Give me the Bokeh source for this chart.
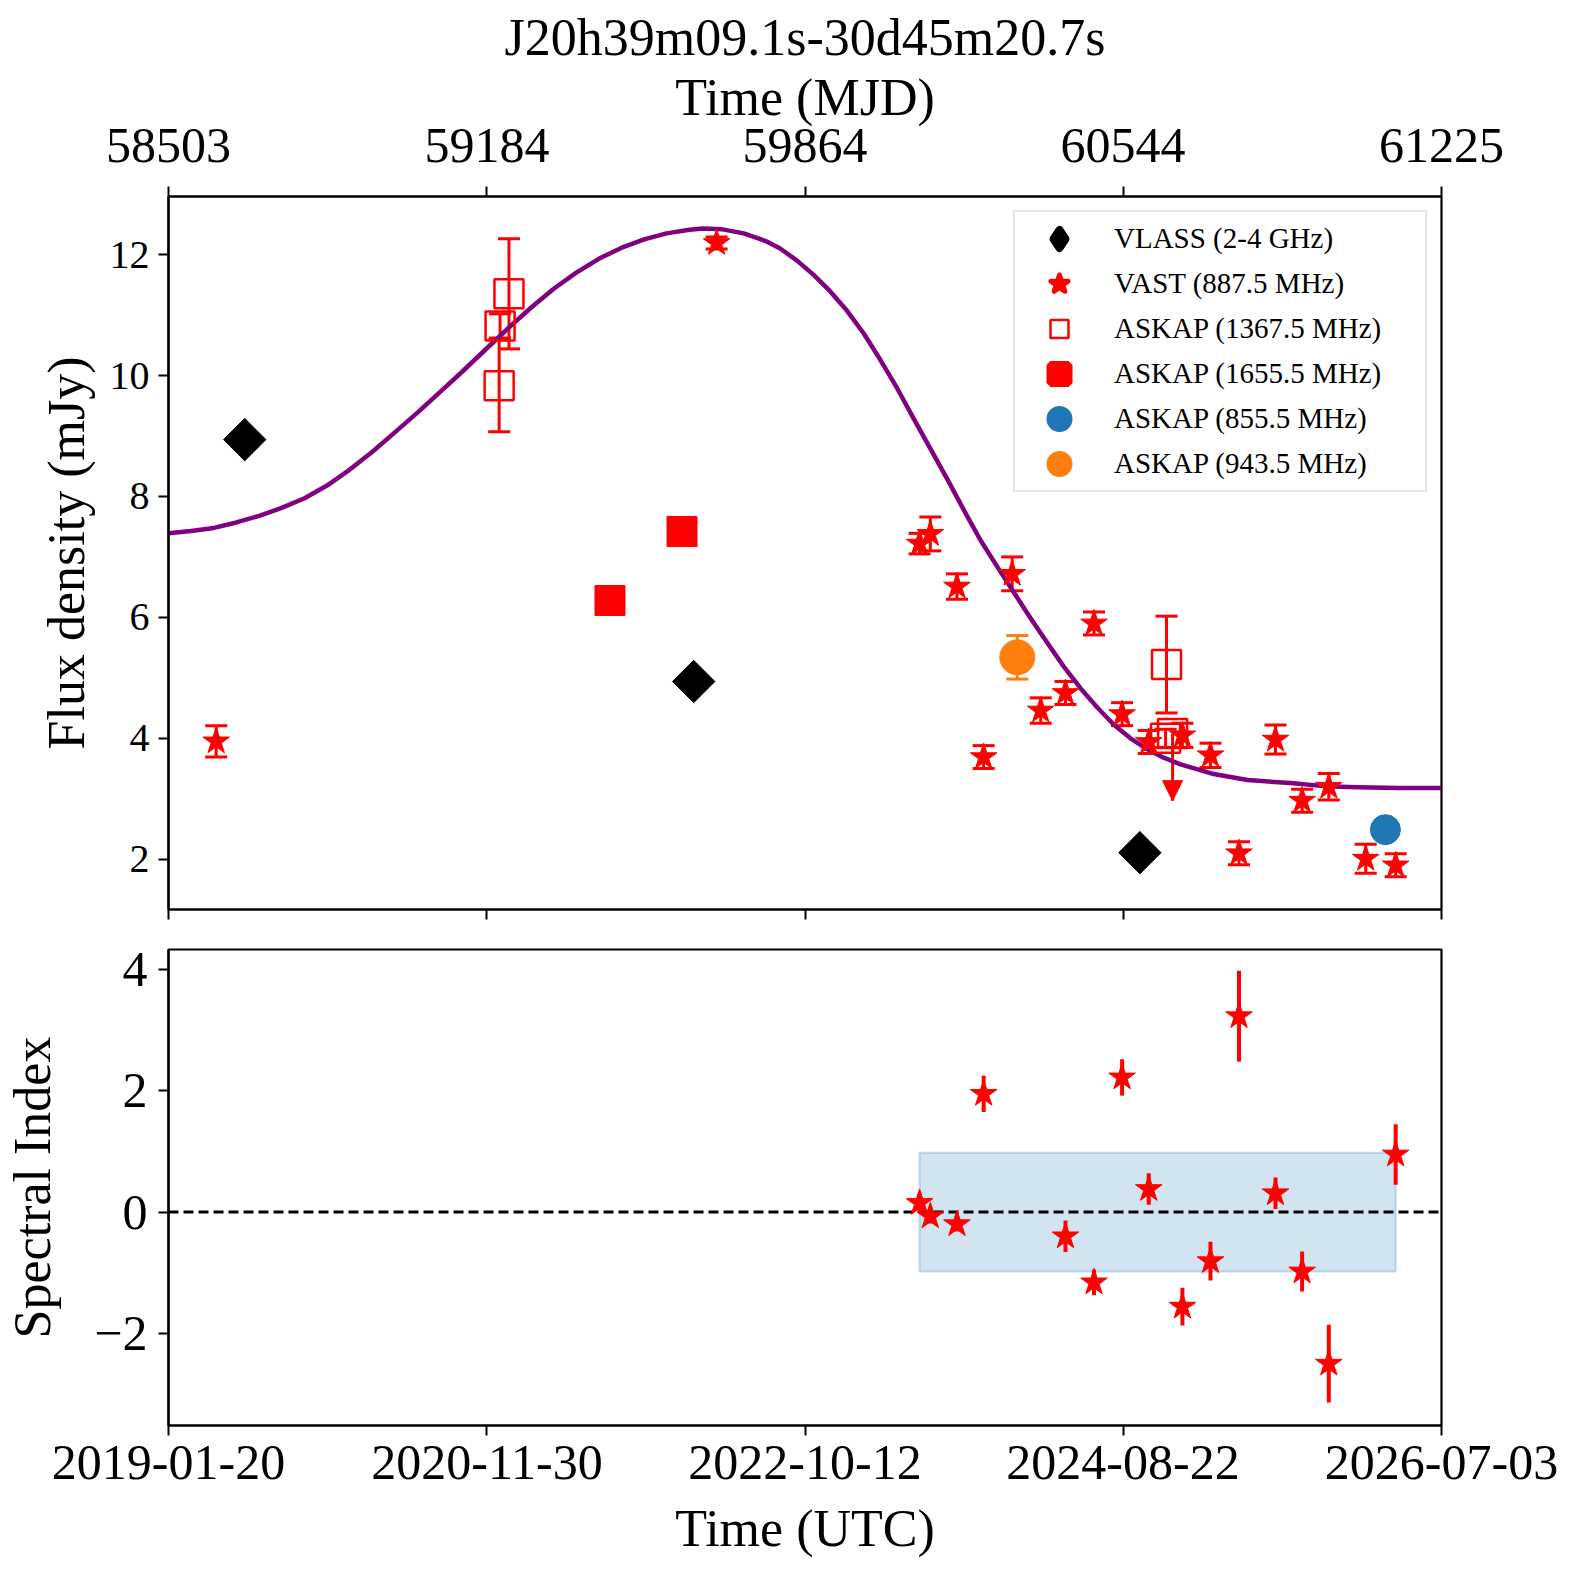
from bokeh.plotting import figure
from bokeh.models import (ColumnDataSource, Range1d, FixedTicker, LinearAxis, Whisker, TeeHead,
                          NormalHead, Legend, LegendItem, BoxAnnotation, Span)
from bokeh.core.properties import value
from bokeh.layouts import column
from bokeh.embed import file_html
from bokeh.resources import INLINE

FONT = "Liberation Serif"

TITLE = "J20h39m09.1s-30d45m20.7s"
MJD_TICKS = [58503, 59184, 59864, 60544, 61225]
DATE_LABELS = ["2019-01-20", "2020-11-30", "2022-10-12", "2024-08-22", "2026-07-03"]
FLUX_TICKS = [2, 4, 6, 8, 10, 12]
SPEC_TICKS = [-2, 0, 2, 4]
SPEC_LABELS = ["\u22122", "0", "2", "4"]

# VLASS (2-4 GHz)
vlass_mjd = [58666, 59626, 60580]
vlass_flux = [8.94, 4.94, 2.11]

# VAST (887.5 MHz)
vast_mjd = [58605, 59675, 60109, 60132, 60189, 60246, 60307, 60368, 60421, 60482,
            60542, 60599, 60671, 60731, 60792, 60870, 60927, 60984, 61063, 61127]
vast_flux = [3.95, 12.19, 7.22, 7.38, 6.51, 3.69, 6.72, 4.46, 4.75, 5.90,
             4.40, 3.94, 4.05, 3.72, 2.10, 3.98, 2.97, 3.20, 2.01, 1.90]
vast_err = [0.26, 0.10, 0.17, 0.28, 0.21, 0.19, 0.28, 0.21, 0.19, 0.19,
            0.19, 0.19, 0.20, 0.20, 0.19, 0.24, 0.19, 0.22, 0.24, 0.19]

# ASKAP (1367.5 MHz)
a1367_mjd = [59210, 59212, 59231, 60635, 60637]
a1367_flux = [9.83, 10.82, 11.35, 4.00, 5.22]
a1367_err = [0.76, 0.20, 0.91, 0.15, 0.80]
a1367_ul_mjd = [60650]
a1367_ul_flux = [4.08]
a1367_ul_tip = [2.97]

# ASKAP (1655.5 MHz)
a1655_mjd = [59447, 59601]
a1655_flux = [6.28, 7.42]

# ASKAP (855.5 MHz)
a855_mjd = [61105]
a855_flux = [2.49]
a855_err = [0.10]

# ASKAP (943.5 MHz)
a943_mjd = [60318]
a943_flux = [5.34]
a943_err = [0.36]

# model curve
model_mjd = [58503, 58551, 58600, 58648, 58697, 58745, 58794, 58842, 58890, 58939,
             58987, 59036, 59084, 59132, 59181, 59229, 59278, 59326, 59375, 59423,
             59471, 59520, 59568, 59617, 59646, 59685, 59733, 59781, 59811, 59847,
             59883, 59918, 59954, 59990, 60025, 60061, 60097, 60132, 60168, 60204,
             60239, 60275, 60310, 60346, 60382, 60417, 60453, 60489, 60524, 60560,
             60596, 60631, 60667, 60738, 60810, 60902, 60973, 61045, 61135, 61225]
model_flux = [7.39, 7.43, 7.48, 7.57, 7.68, 7.81, 7.97, 8.18, 8.44, 8.74,
              9.06, 9.39, 9.73, 10.07, 10.43, 10.78, 11.12, 11.43, 11.70, 11.93,
              12.11, 12.25, 12.35, 12.41, 12.43, 12.42, 12.35, 12.22, 12.10, 11.90,
              11.66, 11.39, 11.07, 10.69, 10.26, 9.79, 9.28, 8.79, 8.29, 7.77,
              7.28, 6.84, 6.42, 5.99, 5.58, 5.19, 4.83, 4.51, 4.23, 4.00,
              3.82, 3.68, 3.57, 3.41, 3.31, 3.26, 3.21, 3.19, 3.18, 3.18]

# spectral index
spec_mjd = [60109, 60132, 60189, 60246, 60421, 60482, 60542, 60599, 60671, 60731,
            60792, 60870, 60927, 60984, 61127]
spec_index = [0.15, -0.07, -0.20, 1.95, -0.40, -1.16, 2.22, 0.38, -1.56, -0.81,
              3.23, 0.31, -0.98, -2.50, 0.95]
spec_err = [0.15, 0.12, 0.12, 0.30, 0.26, 0.21, 0.30, 0.26, 0.31, 0.32,
            0.75, 0.26, 0.33, 0.64, 0.50]
SPEC_BAND = 0.98

X_RANGE = (58503, 61225)
FLUX_RANGE = (1.17, 12.96)
SPEC_RANGE = (-3.52, 4.33)

RED = "#ff0000"
PURPLE = "#800080"
BLUE = "#1f77b4"
ORANGE = "#ff7f0e"


def style_axis(ax, size="50px"):
    ax.major_label_text_font = FONT
    ax.major_label_text_font_size = size
    ax.major_label_text_color = "black"
    ax.axis_label_text_font = FONT
    ax.axis_label_text_font_size = "52px"
    ax.axis_label_text_font_style = "normal"
    ax.axis_label_text_color = "black"
    ax.axis_line_color = "black"
    ax.axis_line_width = 2.2
    ax.major_tick_line_color = "black"
    ax.major_tick_line_width = 2
    ax.major_tick_out = 10
    ax.major_tick_in = 0
    ax.minor_tick_line_color = None


def err_source(x, y, e):
    return ColumnDataSource(dict(x=x, y=y, lo=[a - b for a, b in zip(y, e)],
                                 hi=[a + b for a, b in zip(y, e)]))


def add_errbars(p, src, color, width=3, cap=22):
    w = Whisker(source=src, base="x", lower="lo", upper="hi", dimension="height",
                line_color=color, line_width=width,
                upper_head=TeeHead(size=cap, line_color=color, line_width=width),
                lower_head=TeeHead(size=cap, line_color=color, line_width=width))
    p.add_layout(w)


xr = Range1d(*X_RANGE)

# ---------------- top panel ----------------
p1 = figure(width=1572, height=929, x_range=xr, y_range=Range1d(*FLUX_RANGE),
            x_axis_location="above", output_backend="svg", toolbar_location=None,
            min_border_left=168, min_border_right=131, min_border_top=196, min_border_bottom=20)
p1.title.text = TITLE
p1.title.align = "center"
p1.title.text_font = FONT
p1.title.text_font_size = "52px"
p1.title.text_font_style = "normal"
p1.title.text_color = "black"
p1.title.standoff = 0
p1.outline_line_color = "black"
p1.outline_line_width = 2.2
p1.xgrid.grid_line_color = None
p1.ygrid.grid_line_color = None
p1.background_fill_color = "white"
p1.border_fill_color = "white"

top_ax = p1.xaxis[0]
top_ax.ticker = FixedTicker(ticks=MJD_TICKS)
top_ax.major_label_overrides = {t: str(t) for t in MJD_TICKS}
top_ax.axis_label = "Time (MJD)"
style_axis(top_ax)
top_ax.major_label_standoff = 25
top_ax.axis_label_standoff = 0

bot_ax = LinearAxis(ticker=FixedTicker(ticks=MJD_TICKS))
style_axis(bot_ax)
bot_ax.major_label_text_font_size = "10px"
bot_ax.major_label_text_color = None
bot_ax.major_label_standoff = 0
p1.add_layout(bot_ax, "below")

yax1 = p1.yaxis[0]
yax1.ticker = FixedTicker(ticks=FLUX_TICKS)
yax1.axis_label = "Flux density (mJy)"
style_axis(yax1, "40px")
yax1.major_label_standoff = 9
yax1.axis_label_standoff = 12

# model
p1.line(model_mjd, model_flux, line_color=PURPLE, line_width=4.5, line_join="round")

# error bars
add_errbars(p1, err_source(vast_mjd, vast_flux, vast_err), RED)
add_errbars(p1, err_source(a1367_mjd, a1367_flux, a1367_err), RED)
add_errbars(p1, err_source(a855_mjd, a855_flux, a855_err), BLUE)
add_errbars(p1, err_source(a943_mjd, a943_flux, a943_err), ORANGE)
ul_src = ColumnDataSource(dict(x=a1367_ul_mjd, y=a1367_ul_flux, tip=a1367_ul_tip))
p1.add_layout(Whisker(source=ul_src, base="x", lower="tip", upper="y", dimension="height",
                      line_color=RED, line_width=3, upper_head=None,
                      lower_head=NormalHead(size=20, fill_color=RED, line_color=RED, line_width=1)))

# markers
p1.scatter(vlass_mjd, vlass_flux, marker="square", angle=0.7853981634, size=30,
           fill_color="black", line_color="black")
p1.scatter(vast_mjd, vast_flux, marker="star", size=28, fill_color=RED, line_color=RED)
p1.scatter(a1367_mjd, a1367_flux, marker="square", size=29, fill_color=None,
           line_color=RED, line_width=2.5)
p1.scatter(a1367_ul_mjd, a1367_ul_flux, marker="square", size=29, fill_color=None,
           line_color=RED, line_width=2.5)
p1.scatter(a1655_mjd, a1655_flux, marker="square", size=30, fill_color=RED, line_color=RED)
p1.scatter(a855_mjd, a855_flux, marker="circle", size=30, fill_color=BLUE, line_color=BLUE)
p1.scatter(a943_mjd, a943_flux, marker="circle", size=35, fill_color=ORANGE, line_color=ORANGE)

# hidden proxies drawn only in the legend (thicker outlines so they look as big as the plot marks)
leg_vlass = p1.scatter(vlass_mjd, vlass_flux, marker="diamond", size=30, fill_color="black",
                       line_color="black", line_width=8, line_join="round", visible=False)
leg_vast = p1.scatter(vast_mjd, vast_flux, marker="star", size=28, fill_color=RED,
                      line_color=RED, line_width=5, line_join="round", visible=False)
leg_1367 = p1.scatter(a1367_mjd, a1367_flux, marker="square", size=29, fill_color=None,
                      line_color=RED, line_width=2.5, visible=False)
leg_1655 = p1.scatter(a1655_mjd, a1655_flux, marker="square", size=30, fill_color=RED,
                      line_color=RED, line_width=8, visible=False)
leg_855 = p1.scatter(a855_mjd, a855_flux, marker="circle", size=30, fill_color=BLUE,
                     line_color=BLUE, line_width=8, visible=False)
leg_943 = p1.scatter(a943_mjd, a943_flux, marker="circle", size=30, fill_color=ORANGE,
                     line_color=ORANGE, line_width=8, visible=False)

legend = Legend(items=[
    LegendItem(label=value("VLASS (2-4 GHz)"), renderers=[leg_vlass]),
    LegendItem(label=value("VAST (887.5 MHz)"), renderers=[leg_vast]),
    LegendItem(label=value("ASKAP (1367.5 MHz)"), renderers=[leg_1367]),
    LegendItem(label=value("ASKAP (1655.5 MHz)"), renderers=[leg_1655]),
    LegendItem(label=value("ASKAP (855.5 MHz)"), renderers=[leg_855]),
    LegendItem(label=value("ASKAP (943.5 MHz)"), renderers=[leg_943]),
], location="top_right", margin=14, padding=4, spacing=0, glyph_height=45, glyph_width=80,
    label_standoff=15, label_width=307, label_text_font=FONT, label_text_font_size="29px",
    label_text_color="black",
    border_line_color="#cccccc", border_line_width=2, background_fill_color="white",
    background_fill_alpha=0.8)
p1.add_layout(legend)

# ---------------- bottom panel ----------------
p2 = figure(width=1572, height=643, x_range=xr, y_range=Range1d(*SPEC_RANGE),
            output_backend="svg", toolbar_location=None,
            min_border_left=168, min_border_right=131, min_border_top=20, min_border_bottom=147)
p2.outline_line_color = "black"
p2.outline_line_width = 2.2
p2.xgrid.grid_line_color = None
p2.ygrid.grid_line_color = None
p2.background_fill_color = "white"
p2.border_fill_color = "white"

xax2 = p2.xaxis[0]
xax2.ticker = FixedTicker(ticks=MJD_TICKS)
xax2.major_label_overrides = {t: lab for t, lab in zip(MJD_TICKS, DATE_LABELS)}
xax2.axis_label = "Time (UTC)"
style_axis(xax2)
xax2.major_label_standoff = 10
xax2.axis_label_standoff = 18

yax2 = p2.yaxis[0]
yax2.ticker = FixedTicker(ticks=SPEC_TICKS)
yax2.major_label_overrides = {t: lab for t, lab in zip(SPEC_TICKS, SPEC_LABELS)}
yax2.axis_label = "Spectral Index"
style_axis(yax2)
yax2.major_label_standoff = 11
yax2.axis_label_standoff = 30

band = BoxAnnotation(left=min(spec_mjd), right=max(spec_mjd), bottom=-SPEC_BAND, top=SPEC_BAND,
                     fill_color=BLUE, fill_alpha=0.2, line_color=BLUE, line_alpha=0.25,
                     line_width=2, level="underlay")
p2.add_layout(band)
p2.add_layout(Span(location=0, dimension="width", line_color="black", line_width=3,
                   line_dash="10 5", level="underlay"))
spec_src = err_source(spec_mjd, spec_index, spec_err)
p2.add_layout(Whisker(source=spec_src, base="x", lower="lo", upper="hi", dimension="height",
                      line_color=RED, line_width=4, upper_head=None, lower_head=None))
p2.scatter(spec_mjd, spec_index, marker="star", size=28, fill_color=RED, line_color=RED)

layout = column(p1, p2, spacing=0)
open("out.html", "w").write(file_html(layout, INLINE))
